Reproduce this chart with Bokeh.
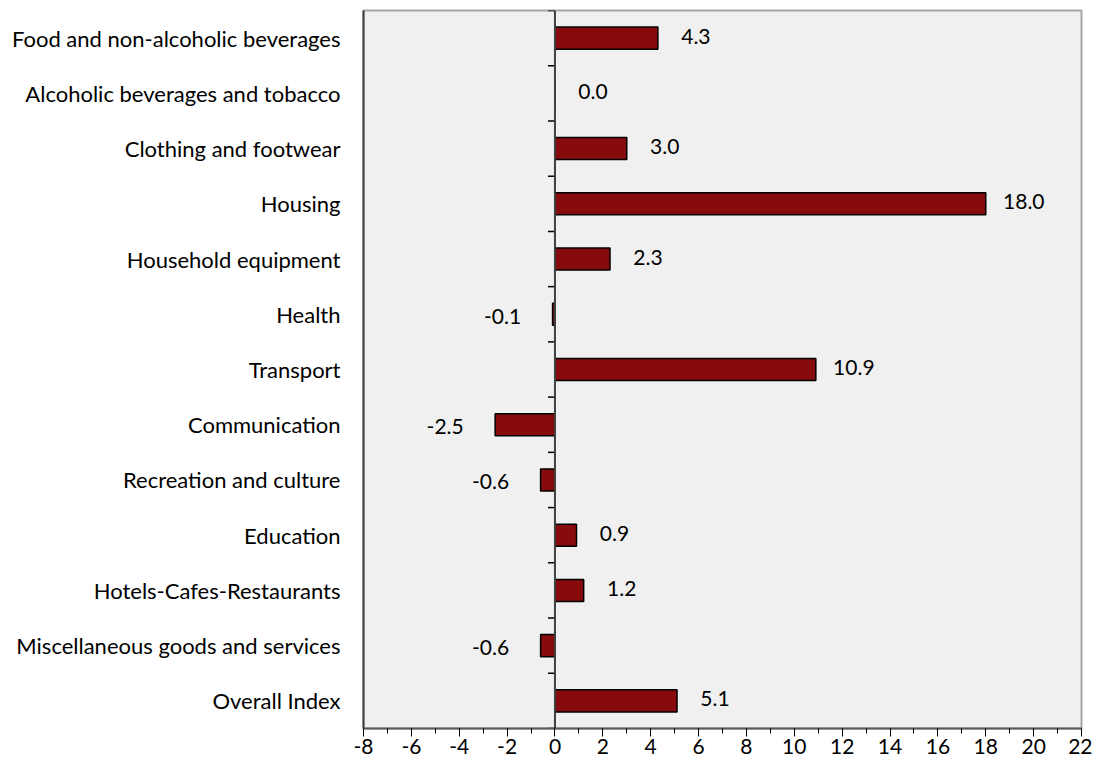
from bokeh.plotting import figure
from bokeh.models import ColumnDataSource, FixedTicker, Range1d, Span
from bokeh.core.properties import value
from bokeh.embed import file_html
from bokeh.resources import INLINE

categories = [
    "Food and non-alcoholic beverages",
    "Alcoholic beverages and tobacco",
    "Clothing and footwear",
    "Housing",
    "Household equipment",
    "Health",
    "Transport",
    "Communication",
    "Recreation and culture",
    "Education",
    "Hotels-Cafes-Restaurants",
    "Miscellaneous goods and services",
    "Overall Index",
]
values = [4.3, 0.0, 3.0, 18.0, 2.3, -0.1, 10.9, -2.5, -0.6, 0.9, 1.2, -0.6, 5.1]
x_ticks = list(range(-8, 23, 2))
x_tick_labels = [str(t) for t in x_ticks]

FONT = "Lato"
n = len(categories)
ypos = [n - 1 - i for i in range(n)]

p = figure(
    frame_width=718, frame_height=718,
    x_range=Range1d(-8, 22), y_range=Range1d(-0.5, n - 0.5),
    output_backend="svg", toolbar_location=None,
    min_border_left=363, min_border_right=11, min_border_top=10, min_border_bottom=35,
    background_fill_color="#F0F0F0", border_fill_color="white",
)
p.outline_line_color = "#A6A6A6"
p.outline_line_width = 2
p.xgrid.visible = False
p.ygrid.visible = False

# x axis
p.xaxis.ticker = FixedTicker(ticks=x_ticks, minor_ticks=list(range(-8, 23)))
p.xaxis.major_label_overrides = dict(zip(x_ticks, x_tick_labels))
p.xaxis.axis_line_color = "#595959"
p.xaxis.axis_line_width = 2
p.xaxis.major_tick_line_color = "black"
p.xaxis.minor_tick_line_color = "black"
p.xaxis.major_tick_out = 8
p.xaxis.major_tick_in = 0
p.xaxis.minor_tick_out = 5
p.xaxis.minor_tick_in = 0
p.xaxis.major_label_text_font = FONT
p.xaxis.major_label_text_font_size = "21px"
p.xaxis.major_label_text_color = "black"
p.xaxis.major_label_standoff = 2

# y axis (category labels)
p.yaxis.ticker = FixedTicker(ticks=ypos)
p.yaxis.major_label_overrides = {y: c for y, c in zip(ypos, categories)}
p.yaxis.axis_line_color = "#404040"
p.yaxis.axis_line_width = 2
p.yaxis.major_tick_line_color = None
p.yaxis.minor_tick_line_color = None
p.yaxis.major_label_text_font = FONT
p.yaxis.major_label_text_font_size = "22px"
p.yaxis.major_label_text_color = "black"
p.yaxis.major_label_standoff = 17

# zero line with category-boundary ticks
p.add_layout(Span(location=0, dimension="height", line_color="#404040", line_width=2))
tick_len = 7 * 30 / 718
bounds = [i - 0.5 for i in range(n + 1)]
p.segment(x0=[0] * len(bounds), x1=[-tick_len] * len(bounds), y0=bounds, y1=bounds,
          line_color="black", line_width=1.5)

src = ColumnDataSource(dict(y=ypos, v=values))
p.hbar(y="y", left=0, right="v", height=0.4, source=src,
       fill_color="#870A0C", line_color="black", line_width=1.5)

pos = [i for i, v in enumerate(values) if v >= 0]
neg = [i for i, v in enumerate(values) if v < 0]
psrc = ColumnDataSource(dict(y=[ypos[i] for i in pos], v=[values[i] for i in pos],
                             lbl=[f"{values[i]:.1f}" for i in pos]))
nsrc = ColumnDataSource(dict(y=[ypos[i] for i in neg], v=[values[i] for i in neg],
                             lbl=[f"{values[i]:.1f}" for i in neg]))
p.text(x="v", y="y", text="lbl", source=psrc, x_offset=38, y_offset=-2,
       text_align="center", text_baseline="middle",
       text_font=value(FONT), text_font_size="21px", text_color="black")
p.text(x="v", y="y", text="lbl", source=nsrc, x_offset=-50, y_offset=2,
       text_align="center", text_baseline="middle",
       text_font=value(FONT), text_font_size="21px", text_color="black")

open("out.html", "w").write(file_html(p, INLINE))
